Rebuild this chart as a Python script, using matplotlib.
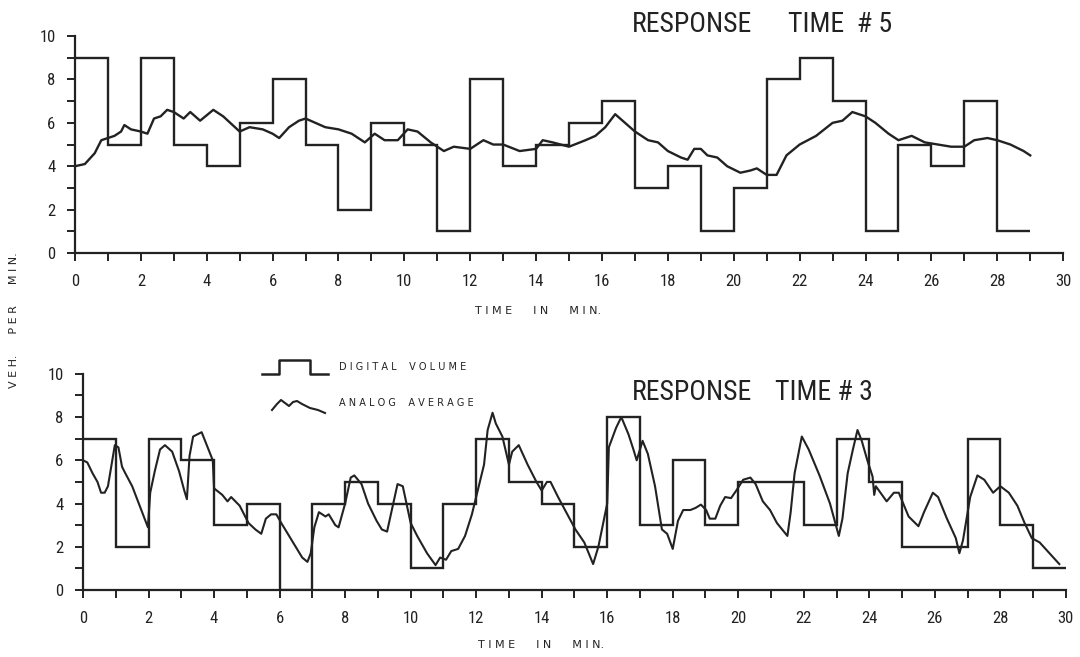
import matplotlib
matplotlib.use("Agg")
import matplotlib.pyplot as plt
from matplotlib import font_manager
import numpy as np
from matplotlib.lines import Line2D

# datos: volumen digital (por minuto) y promedio analogico
top_digital = [9, 5, 9, 5, 4, 6, 8, 5, 2, 6, 5, 1, 8, 4, 5, 6, 7, 3, 4, 1,
               3, 8, 9, 7, 1, 5, 4, 7, 1]
top_t = [0, 0.3, 0.6, 0.8, 1.0, 1.2, 1.4, 1.5, 1.7, 2.0, 2.2, 2.4, 2.6, 2.8,
         3.0, 3.3, 3.5, 3.8, 4.2, 4.5, 5.0, 5.3, 5.7, 6.0, 6.2, 6.5, 6.8, 7.0,
         7.3, 7.6, 8.0, 8.4, 8.8, 9.1, 9.4, 9.8, 10.1, 10.4, 10.8, 11.0, 11.2,
         11.5, 12.0, 12.4, 12.7, 13.0, 13.5, 14.0, 14.2, 14.5, 15.0, 15.5,
         15.8, 16.1, 16.4, 16.7, 17.0, 17.4, 17.7, 18.0, 18.4, 18.6, 18.8,
         19.0, 19.2, 19.5, 19.8, 20.2, 20.5, 20.7, 21.0, 21.3, 21.6, 22.0,
         22.5, 23.0, 23.3, 23.6, 24.0, 24.3, 24.7, 25.0, 25.4, 25.8, 26.2,
         26.6, 27.0, 27.3, 27.7, 28.0, 28.4, 28.8, 29.0]
top_analog = [4.0, 4.1, 4.6, 5.2, 5.3, 5.4, 5.6, 5.9, 5.7, 5.6, 5.5, 6.2, 6.3,
              6.6, 6.5, 6.2, 6.5, 6.1, 6.6, 6.3, 5.6, 5.8, 5.7, 5.5, 5.3, 5.8,
              6.1, 6.2, 6.0, 5.8, 5.7, 5.5, 5.1, 5.5, 5.2, 5.2, 5.7, 5.6, 5.1,
              4.9, 4.7, 4.9, 4.8, 5.2, 5.0, 5.0, 4.7, 4.8, 5.2, 5.1, 4.9, 5.2,
              5.4, 5.8, 6.4, 6.0, 5.6, 5.2, 5.1, 4.7, 4.4, 4.3, 4.8, 4.8, 4.5,
              4.4, 4.0, 3.7, 3.8, 3.9, 3.6, 3.6, 4.5, 5.0, 5.4, 6.0, 6.1, 6.5,
              6.3, 6.0, 5.5, 5.2, 5.4, 5.1, 5.0, 4.9, 4.9, 5.2, 5.3, 5.2, 5.0,
              4.7, 4.5]

bot_digital = [7, 2, 7, 6, 3, 4, 0, 4, 5, 4, 1, 4, 7, 5, 4, 2, 8, 3, 6, 3,
               5, 5, 3, 7, 5, 2, 2, 7, 3, 1]
bot_t = [0, 0.13, 0.29, 0.44, 0.55, 0.66, 0.76, 0.87, 0.97, 1.08, 1.19, 1.29,
         1.5, 1.98, 2.05, 2.19, 2.35, 2.5, 2.72, 2.93, 3.09, 3.17, 3.25, 3.36,
         3.62, 3.83, 3.96, 4.0, 4.25, 4.41, 4.52, 4.78, 5.05, 5.26, 5.44, 5.58,
         5.74, 5.9, 6.05, 6.37, 6.69, 6.85, 6.95, 7.06, 7.2, 7.4, 7.5, 7.7,
         7.8, 8.0, 8.17, 8.28, 8.5, 8.7, 8.96, 9.12, 9.28, 9.44, 9.6, 9.76,
         10.0, 10.2, 10.5, 10.76, 10.9, 11.08, 11.24, 11.45, 11.66, 11.87,
         12.08, 12.24, 12.35, 12.5, 12.6, 12.8, 13.0, 13.1, 13.3, 13.57, 13.84,
         14.0, 14.16, 14.27, 14.5, 15.03, 15.3, 15.57, 15.73, 16.0, 16.05,
         16.27, 16.43, 16.65, 16.8, 16.9, 17.08, 17.24, 17.46, 17.67, 17.83,
         18.0, 18.16, 18.32, 18.54, 18.7, 18.86, 19.02, 19.13, 19.3, 19.45,
         19.6, 19.78, 19.94, 20.15, 20.37, 20.53, 20.75, 20.97, 21.18, 21.5,
         21.6, 21.72, 21.94, 22.15, 22.48, 22.8, 23.07, 23.18, 23.34, 23.5,
         23.64, 23.77, 23.94, 24.1, 24.15, 24.2, 24.53, 24.75, 24.9, 25.2,
         25.4, 25.5, 25.67, 25.94, 26.1, 26.37, 26.64, 26.75, 26.86, 27.08,
         27.3, 27.51, 27.78, 28.0, 28.26, 28.52, 28.74, 28.96, 29.2, 29.5,
         29.8]
bot_analog = [6.0, 5.9, 5.4, 5.0, 4.5, 4.5, 4.8, 5.8, 6.7, 6.6, 5.7, 5.4, 4.8,
              2.9, 4.5, 5.5, 6.5, 6.7, 6.4, 5.5, 4.6, 4.2, 6.2, 7.1, 7.3, 6.5,
              6.0, 4.7, 4.4, 4.1, 4.3, 3.9, 3.1, 2.8, 2.6, 3.3, 3.5, 3.5, 3.1,
              2.3, 1.5, 1.3, 1.7, 2.9, 3.6, 3.4, 3.5, 3.0, 2.9, 4.0, 5.2, 5.3,
              4.9, 4.0, 3.2, 2.8, 2.7, 3.8, 4.9, 4.8, 3.1, 2.5, 1.7, 1.15, 1.5,
              1.4, 1.8, 1.9, 2.5, 3.5, 4.8, 5.8, 7.4, 8.2, 7.7, 7.1, 5.8, 6.4,
              6.7, 5.8, 5.0, 4.6, 5.0, 5.0, 4.3, 2.8, 2.2, 1.2, 2.0, 4.0, 6.6,
              7.5, 8.0, 7.2, 6.5, 6.0, 6.9, 6.3, 4.8, 2.8, 2.6, 1.9, 3.2, 3.7,
              3.7, 3.8, 3.95, 3.7, 3.3, 3.3, 3.9, 4.3, 4.25, 4.6, 5.1, 5.2, 4.9,
              4.1, 3.7, 3.1, 2.5, 3.6, 5.4, 7.1, 6.5, 5.3, 4.0, 2.5, 3.3, 5.4,
              6.5, 7.4, 6.9, 6.0, 5.25, 4.4, 4.8, 4.1, 4.5, 4.5, 3.4, 3.1, 2.95,
              3.6, 4.5, 4.3, 3.3, 2.4, 1.7, 2.3, 4.3, 5.3, 5.1, 4.5, 4.8, 4.5,
              3.9, 3.1, 2.4, 2.2, 1.7, 1.2]

ink = '#222222'

# buscamos una fuente estrecha instalada
nombres = {f.name for f in font_manager.fontManager.ttflist}
estrechas = {f.name for f in font_manager.fontManager.ttflist
             if f.stretch in ('condensed', 'semi-condensed', 'extra-condensed')
             or 'Narrow' in f.name or 'Condensed' in f.name}
narrow = ['DejaVu Sans']
stretch = 'normal'
for cand in ['Liberation Sans Narrow', 'DejaVu Sans Condensed', 'Roboto Condensed']:
    if cand in nombres:
        narrow = [cand, 'DejaVu Sans']
        break
else:
    if any(f.name == 'DejaVu Sans' and f.stretch == 'condensed'
           for f in font_manager.fontManager.ttflist):
        stretch = 'condensed'
    elif estrechas:
        narrow = [sorted(estrechas)[0], 'DejaVu Sans']

fig = plt.figure(figsize=(10.8, 6.57), dpi=100)
ax1 = fig.add_axes([0.0694, 0.615, 0.915, 0.330])
ax2 = fig.add_axes([0.0769, 0.102, 0.910, 0.329])

def estilo(ax):
    ax.set_xlim(0, 30)
    ax.set_ylim(0, 10)
    for s in ['top', 'right']:
        ax.spines[s].set_visible(False)
    for s in ['left', 'bottom']:
        ax.spines[s].set_linewidth(1.6)
        ax.spines[s].set_color(ink)
    ax.set_xticks(range(31))
    ax.set_xticklabels([str(i) if i % 2 == 0 else '' for i in range(31)],
                       family=narrow, stretch=stretch, fontsize=12)
    ax.set_yticks(range(11))
    ax.set_yticklabels([str(i) if i % 2 == 0 else '' for i in range(11)],
                       family=narrow, stretch=stretch, fontsize=12)
    ax.tick_params(direction='out', length=6, width=1.4, color=ink,
                   labelcolor=ink)
    ax.tick_params(axis='x', pad=9)
    ax.tick_params(axis='y', pad=8)
    ax.patch.set_alpha(0)

estilo(ax1)
estilo(ax2)

ax1.stairs(top_digital, np.arange(len(top_digital) + 1), baseline=None,
           color=ink, lw=1.7)
ax1.plot(top_t, top_analog, color=ink, lw=1.7)
ax2.stairs(bot_digital, np.arange(len(bot_digital) + 1), baseline=None,
           color=ink, lw=1.7)
ax2.plot(bot_t, bot_analog, color=ink, lw=1.5)

# titulos
tit = dict(family=narrow, stretch=stretch, fontsize=20, color=ink,
           ha='left', va='center')
fig.text(632 / 1080, 1 - 24 / 657, 'RESPONSE', **tit)
fig.text(788 / 1080, 1 - 24 / 657, 'TIME  # 5', **tit)
fig.text(632 / 1080, 1 - 392 / 657, 'RESPONSE', **tit)
fig.text(775 / 1080, 1 - 392 / 657, 'TIME # 3', **tit)

# etiquetas de ejes
lab = dict(family='DejaVu Sans', fontsize=8, color=ink, ha='center',
           va='center')
fig.text(538 / 1080, 1 - 311 / 657, 'T I M E      I N      M I N.', **lab)
fig.text(541 / 1080, 1 - 645 / 657, 'T I M E      I N      M I N.', **lab)
fig.text(14 / 1080, 1 - 320 / 657, 'V E H.      P E R      M I N.',
         rotation=90, **lab)

# leyenda
fig.add_artist(Line2D(np.array([262, 279, 279, 310, 310, 328]) / 1080,
                      1 - np.array([374, 374, 360, 360, 374, 374]) / 657,
                      color=ink, lw=1.8))
fig.add_artist(Line2D(np.array([272, 277, 281, 285, 289, 293, 297, 302, 310, 318, 325]) / 1080,
                      1 - np.array([410, 404, 400, 403, 406, 402, 401, 404, 408, 410, 413]) / 657,
                      color=ink, lw=1.5))
fig.text(339 / 1080, 1 - 367 / 657, 'D I G I T A L    V O L U M E',
         family='DejaVu Sans', fontsize=7, color=ink, va='center')
fig.text(339 / 1080, 1 - 403 / 657, 'A N A L O G    A V E R A G E',
         family='DejaVu Sans', fontsize=7, color=ink, va='center')

fig.savefig('out.png', dpi=100)
